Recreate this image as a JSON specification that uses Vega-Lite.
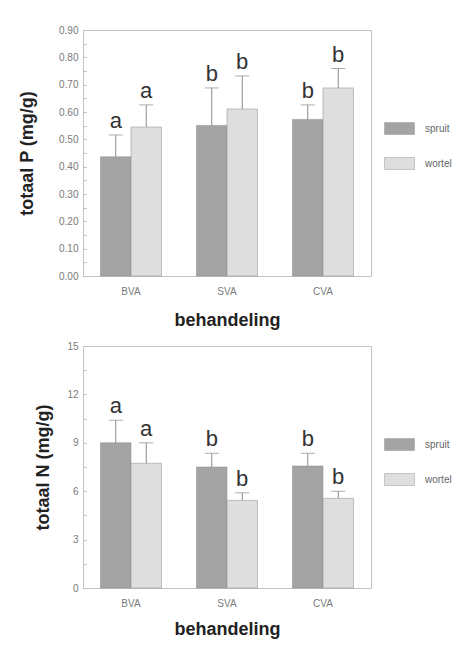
{
  "$schema": "https://vega.github.io/schema/vega-lite/v6.json",
  "padding": {"left": 18, "top": 24, "right": 5, "bottom": 5},
  "background": "white",
  "datasets": {
    "P": [
      {"behandeling": "BVA", "soort": "spruit", "waarde": 0.436, "fout": 0.516, "letter": "a"},
      {"behandeling": "BVA", "soort": "wortel", "waarde": 0.545, "fout": 0.626, "letter": "a"},
      {"behandeling": "SVA", "soort": "spruit", "waarde": 0.551, "fout": 0.688, "letter": "b"},
      {"behandeling": "SVA", "soort": "wortel", "waarde": 0.611, "fout": 0.732, "letter": "b"},
      {"behandeling": "CVA", "soort": "spruit", "waarde": 0.573, "fout": 0.626, "letter": "b"},
      {"behandeling": "CVA", "soort": "wortel", "waarde": 0.688, "fout": 0.759, "letter": "b"}
    ],
    "N": [
      {"behandeling": "BVA", "soort": "spruit", "waarde": 9.0, "fout": 10.4, "letter": "a"},
      {"behandeling": "BVA", "soort": "wortel", "waarde": 7.73, "fout": 9.0, "letter": "a"},
      {"behandeling": "SVA", "soort": "spruit", "waarde": 7.5, "fout": 8.35, "letter": "b"},
      {"behandeling": "SVA", "soort": "wortel", "waarde": 5.43, "fout": 5.9, "letter": "b"},
      {"behandeling": "CVA", "soort": "spruit", "waarde": 7.56, "fout": 8.35, "letter": "b"},
      {"behandeling": "CVA", "soort": "wortel", "waarde": 5.56, "fout": 6.0, "letter": "b"}
    ]
  },
  "config": {
    "font": "Liberation Sans",
    "view": {"stroke": "#c4c4c4"},
    "axis": {
      "domain": false,
      "grid": false,
      "labelColor": "#7a7a7a",
      "labelFontSize": 10,
      "labelFont": "Liberation Sans",
      "labelOverlap": false,
      "titleFont": "Liberation Sans",
      "titleFontSize": 18,
      "titleFontWeight": "bold",
      "titleColor": "#222222"
    },
    "legend": {
      "orient": "none",
      "legendX": 301,
      "legendY": 83,
      "padding": 0,
      "symbolType": "M-1,-0.4H1V0.4H-1Z",
      "symbolSize": 900,
      "symbolStrokeColor": "#999999",
      "symbolStrokeWidth": 0.5,
      "labelFontSize": 10,
      "labelColor": "#666666",
      "labelOffset": 10,
      "rowPadding": 12
    }
  },
  "spacing": 10,
  "resolve": {"scale": {"color": "independent"}, "legend": {"color": "independent"}},
  "vconcat": [
    {
      "width": 288,
      "height": 246,
      "data": {"name": "P"},
      "encoding": {
        "x": {"field": "behandeling", "type": "nominal", "sort": ["BVA", "SVA", "CVA"],
              "scale": {"paddingInner": 0.365, "paddingOuter": 0.1825},
              "axis": {"title": "behandeling", "labelAngle": 0, "ticks": false, "labelPadding": 10, "titlePadding": 15}},
        "xOffset": {"field": "soort", "type": "nominal", "sort": ["spruit", "wortel"], "scale": {"paddingInner": 0, "paddingOuter": 0}}
      },
      "layer": [
        {
          "mark": {"type": "bar", "stroke": "#8a8a8a", "strokeWidth": 0.5},
          "encoding": {
            "y": {"field": "waarde", "type": "quantitative", "title": "totaal P (mg/g)",
                  "scale": {"domain": [0, 0.9], "nice": false},
                  "axis": {"values": [0, 0.05, 0.1, 0.15, 0.2, 0.25, 0.3, 0.35, 0.4, 0.45, 0.5, 0.55, 0.6, 0.65, 0.7, 0.75, 0.8, 0.85, 0.9],
                           "tickCount": 100,
                           "format": ".2f",
                           "labelExpr": "indexof(['0.00','0.10','0.20','0.30','0.40','0.50','0.60','0.70','0.80','0.90'], datum.label) >= 0 ? datum.label : ''",
                           "labelOverlap": false, "labelFlush": false,
                           "tickSize": -3, "tickColor": "#bbbbbb", "labelPadding": 8, "titlePadding": 22}},
            "color": {"field": "soort", "type": "nominal", "title": null,
                      "scale": {"domain": ["spruit", "wortel"], "range": ["#a4a4a4", "#dedede"]}}
          }
        },
        {
          "mark": {"type": "rule", "color": "#8a8a8a", "strokeWidth": 1},
          "encoding": {"y": {"field": "waarde", "type": "quantitative", "title": "totaal P (mg/g)"}, "y2": {"field": "fout"}}
        },
        {
          "mark": {"type": "tick", "color": "#8a8a8a", "size": 14, "thickness": 1},
          "encoding": {"y": {"field": "fout", "type": "quantitative", "title": "totaal P (mg/g)"}}
        },
        {
          "mark": {"type": "text", "fontSize": 22, "dy": -7, "baseline": "alphabetic", "color": "#333333"},
          "encoding": {"y": {"field": "fout", "type": "quantitative", "title": "totaal P (mg/g)"}, "text": {"field": "letter"}}
        }
      ]
    },
    {
      "width": 288,
      "height": 242,
      "data": {"name": "N"},
      "encoding": {
        "x": {"field": "behandeling", "type": "nominal", "sort": ["BVA", "SVA", "CVA"],
              "scale": {"paddingInner": 0.365, "paddingOuter": 0.1825},
              "axis": {"title": "behandeling", "labelAngle": 0, "ticks": false, "labelPadding": 10, "titlePadding": 12}},
        "xOffset": {"field": "soort", "type": "nominal", "sort": ["spruit", "wortel"], "scale": {"paddingInner": 0, "paddingOuter": 0}}
      },
      "layer": [
        {
          "mark": {"type": "bar", "stroke": "#8a8a8a", "strokeWidth": 0.5},
          "encoding": {
            "y": {"field": "waarde", "type": "quantitative", "title": "totaal N (mg/g)",
                  "scale": {"domain": [0, 15], "nice": false},
                  "axis": {"values": [0, 1.5, 3, 4.5, 6, 7.5, 9, 10.5, 12, 13.5, 15],
                           "tickCount": 100,
                           "format": ".1f",
                           "labelExpr": "datum.value % 3 == 0 ? format(datum.value, 'd') : ''",
                           "labelOverlap": false, "labelFlush": false,
                           "tickSize": -3, "tickColor": "#bbbbbb", "labelPadding": 8, "titlePadding": 14}},
            "color": {"field": "soort", "type": "nominal", "title": null,
                      "scale": {"domain": ["spruit", "wortel"], "range": ["#a4a4a4", "#dedede"]}}
          }
        },
        {
          "mark": {"type": "rule", "color": "#8a8a8a", "strokeWidth": 1},
          "encoding": {"y": {"field": "waarde", "type": "quantitative", "title": "totaal N (mg/g)"}, "y2": {"field": "fout"}}
        },
        {
          "mark": {"type": "tick", "color": "#8a8a8a", "size": 14, "thickness": 1},
          "encoding": {"y": {"field": "fout", "type": "quantitative", "title": "totaal N (mg/g)"}}
        },
        {
          "mark": {"type": "text", "fontSize": 22, "dy": -7, "baseline": "alphabetic", "color": "#333333"},
          "encoding": {"y": {"field": "fout", "type": "quantitative", "title": "totaal N (mg/g)"}, "text": {"field": "letter"}}
        }
      ]
    }
  ]
}
